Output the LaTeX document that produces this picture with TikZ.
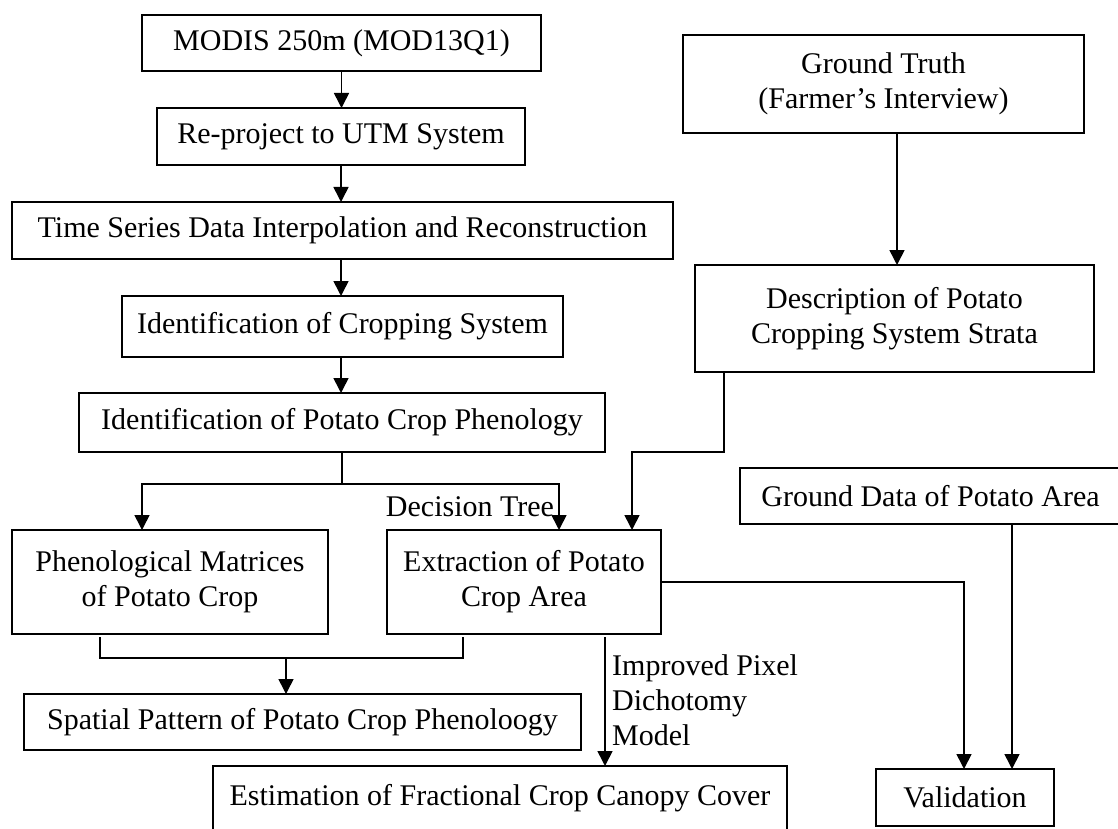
\documentclass[tikz,border=0pt]{standalone}
\usepackage{fontspec}
\setmainfont{Liberation Serif}
\usetikzlibrary{arrows.meta}
\begin{document}
\begin{tikzpicture}[x=1pt,y=-1pt,
  txt/.style={font=\fontsize{30}{35}\selectfont},
  box/.style={txt, draw, line width=2pt, inner sep=0pt, outer sep=0pt, align=center},
  conn/.style={line width=1.6pt},
  arr/.style={conn, -{Triangle[length=15pt,width=15pt]}},
  lbl/.style={txt, inner sep=0pt}]
\useasboundingbox (0,0) rectangle (1118,829);
\fill[white] (0,0) rectangle (1118,829);
\clip (0,0) rectangle (1118,829);

% left column
\node[box, minimum width=399pt, minimum height=56pt] (modis) at (341.5,43) {MODIS 250m (MOD13Q1)};
\node[box, minimum width=368pt, minimum height=57pt] (reproj) at (341,136.5) {Re-project to UTM System};
\node[box, minimum width=661pt, minimum height=57pt] (ts) at (342.5,230.5) {Time Series Data Interpolation and Reconstruction};
\node[box, minimum width=441pt, minimum height=61pt] (ics) at (342.5,326.5) {Identification of Cropping System};
\node[box, minimum width=526pt, minimum height=59pt] (icp) at (342,422.5) {Identification of Potato Crop Phenology};
\node[box, minimum width=316pt, minimum height=104pt] (phm) at (170,582) {Phenological Matrices\\of Potato Crop};
\node[box, minimum width=274pt, minimum height=104pt] (ext) at (524,582) {Extraction of Potato\\Crop Area};
\node[box, minimum width=557pt, minimum height=56pt] (spat) at (302.5,722) {Spatial Pattern of Potato Crop Phenoloogy};
\node[box, minimum width=574pt, minimum height=84pt, text height=20pt, text depth=26pt] (est) at (500,808) {Estimation of Fractional Crop Canopy Cover};

% right column
\node[box, minimum width=401pt, minimum height=98pt] (gt) at (883.5,84) {Ground Truth\\(Farmer’s Interview)};
\node[box, minimum width=399pt, minimum height=107pt] (desc) at (894.5,318.5) {Description of Potato\\Cropping System Strata};
\node[box, minimum width=381pt, minimum height=56pt] (gd) at (930.5,496) {Ground Data of Potato Area};
\node[box, minimum width=178pt, minimum height=57pt] (val) at (965,797.5) {Validation};

% labels
\node[lbl] (dt) at (470,507) {Decision Tree};
\node[lbl, anchor=north west, align=left] (ipd) at (612,654) {Improved Pixel\\Dichotomy\\Model};

% coordinates
\coordinate (j1) at (342,484);
\coordinate (j2) at (632,452);
\coordinate (j4) at (286,658);

% main chain
\draw[arr] (modis.south) -- (modis.south |- reproj.north);
\draw[arr] (reproj.south) -- (reproj.south |- ts.north);
\draw[arr] (reproj.south |- ts.south) -- (reproj.south |- ics.north);
\draw[arr] (reproj.south |- ics.south) -- (reproj.south |- icp.north);

% split
\draw[conn] (icp.south) -- (j1);
\draw[arr] (j1) -| ([xshift=-28pt]phm.north);
\draw[arr] (j1) -| ([xshift=35pt]ext.north);

% description to extraction
\draw[arr] ([xshift=-170.5pt]desc.south) |- (j2) -- ([xshift=108pt]ext.north);

% ground truth to description
\draw[arr] ([xshift=13.5pt]gt.south) -- ([xshift=13.5pt]gt.south |- desc.north);

% bracket to spatial
\draw[conn] ([xshift=-70pt,yshift=-3pt]phm.south) |- (j4) -| ([xshift=-61pt,yshift=-3pt]ext.south);
\draw[arr] (j4) -- (j4 |- spat.north);

% extraction to estimation
\draw[arr] ([xshift=81pt,yshift=-3pt]ext.south) -- ([xshift=81pt]ext.south |- est.north);

% extraction to validation
\draw[arr] (ext.east) -| ([xshift=-1pt]val.north);

% ground data to validation
\draw[arr] ([xshift=47pt]val.north |- gd.south) -- ([xshift=47pt]val.north);
\end{tikzpicture}
\end{document}
